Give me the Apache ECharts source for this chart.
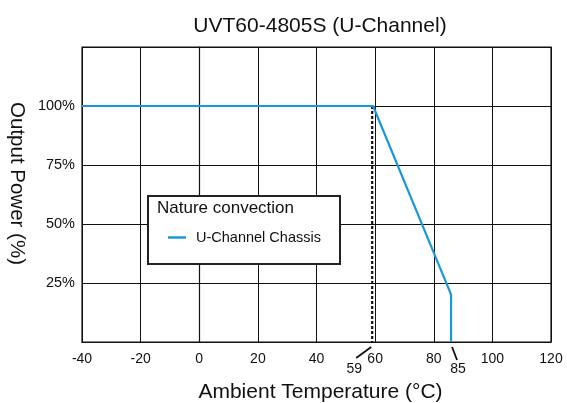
<!DOCTYPE html>
<html><head><meta charset="utf-8">
<script src="https://cdn.jsdelivr.net/npm/echarts@6/dist/echarts.min.js"></script>
<style>html,body{margin:0;padding:0;background:#fff}#c{width:567px;height:403px}</style>
</head><body><div id="c"></div>
<script>
const titleText = 'UVT60-4805S (U-Channel)';
const xName = 'Ambient Temperature (°C)';
const yName = 'Output Power (%)';
const seriesName = 'U-Channel Chassis';
const legendHeader = 'Nature convection';
const curveTemp = [-40, 59.3, 85.6, 85.9, 85.9];
const curvePower = [100, 100, 21, 20, 0];
const markerTemp = [59, 59];
const markerPower = [100, 0];
const annotations = [{temp: 59, label: '59', side: 'left'}, {temp: 85.9, label: '85', side: 'right'}];

const chart = echarts.init(document.getElementById('c'));
const font = 'Arial, "Liberation Sans", sans-serif';
chart.setOption({
  animation: false,
  title: {text: titleText, left: 315, top: 11, textAlign: 'center',
    textStyle: {fontFamily: font, fontSize: 21, fontWeight: 'normal', color: '#111'}},
  grid: {left: 82, right: 16, top: 47, bottom: 61, containLabel: false, outerBoundsMode: 'none',
    show: true, borderColor: '#111', borderWidth: 1.2},
  xAxis: {type: 'value', min: -40, max: 120, interval: 20,
    name: xName, nameLocation: 'middle', nameGap: 40,
    nameTextStyle: {fontFamily: font, fontSize: 21, color: '#111', padding: [0, 0, 0, 8]},
    axisLine: {lineStyle: {color: '#111', width: 1.2}},
    axisTick: {show: false},
    axisLabel: {fontFamily: font, fontSize: 14, color: '#111', margin: 10},
    splitLine: {show: true, lineStyle: {color: '#111', width: 1}}},
  yAxis: {type: 'value', min: 0, max: 125, interval: 25,
    name: yName, nameLocation: 'middle', nameGap: 50, nameRotate: -90,
    nameTextStyle: {fontFamily: font, fontSize: 20.5, color: '#111', padding: [0, 22, 0, 0]},
    axisLine: {show: true, lineStyle: {color: '#111', width: 1.2}},
    axisTick: {show: false},
    axisLabel: {fontFamily: font, fontSize: 14.5, color: '#111', margin: 7,
      formatter: v => (v > 0 && v < 125) ? v + '%' : ''},
    splitLine: {show: true, lineStyle: {color: '#111', width: 1}}},
  legend: {data: [{name: seriesName, icon: 'rect'}], left: 163, top: 225, itemWidth: 18, itemHeight: 2.5, itemGap: 0, z: 10,
    textStyle: {fontFamily: font, fontSize: 14.5, color: '#111', padding: [0, 0, 0, 5]}},
  graphic: [
    {type: 'rect', left: 147, top: 195, z: 5, shape: {width: 192, height: 68},
      style: {fill: '#fff', stroke: '#222', lineWidth: 2}},
    {type: 'text', left: 157, top: 200, z: 6,
      style: {text: legendHeader, font: '17px ' + font, fill: '#111'}}
  ],
  series: [
    {name: 'marker', type: 'line', data: markerTemp.map((t, i) => [t, markerPower[i]]),
      symbol: 'none', lineStyle: {color: '#111', width: 2.2, type: [3, 2]}, z: 3, silent: true},
    {name: seriesName, type: 'line', data: curveTemp.map((t, i) => [t, curvePower[i]]),
      symbol: 'none', lineStyle: {color: '#1a98dc', width: 2.2}, itemStyle: {color: '#1a98dc'}, z: 4},
    {name: 'annot', type: 'custom', clip: false, silent: true,
      data: annotations.map(a => [a.temp, 0]),
      renderItem: (params, api) => {
        const a = annotations[params.dataIndex];
        const p = api.coord([api.value(0), 0]);
        const left = a.side === 'left';
        return {type: 'group', children: [
          {type: 'line', shape: left ? {x1: p[0] - 1, y1: p[1] + 5, x2: p[0] - 16, y2: p[1] + 16}
                                    : {x1: p[0] + 1, y1: p[1] + 5, x2: p[0] + 6, y2: p[1] + 18},
            style: {stroke: '#111', lineWidth: 1.8}},
          {type: 'text', x: left ? p[0] - 18 : p[0] + 7, y: p[1] + 20,
            style: {text: a.label, font: '14px ' + font, fill: '#111', align: 'center', verticalAlign: 'top'}}
        ]};
      }}
  ]
});
</script></body></html>
